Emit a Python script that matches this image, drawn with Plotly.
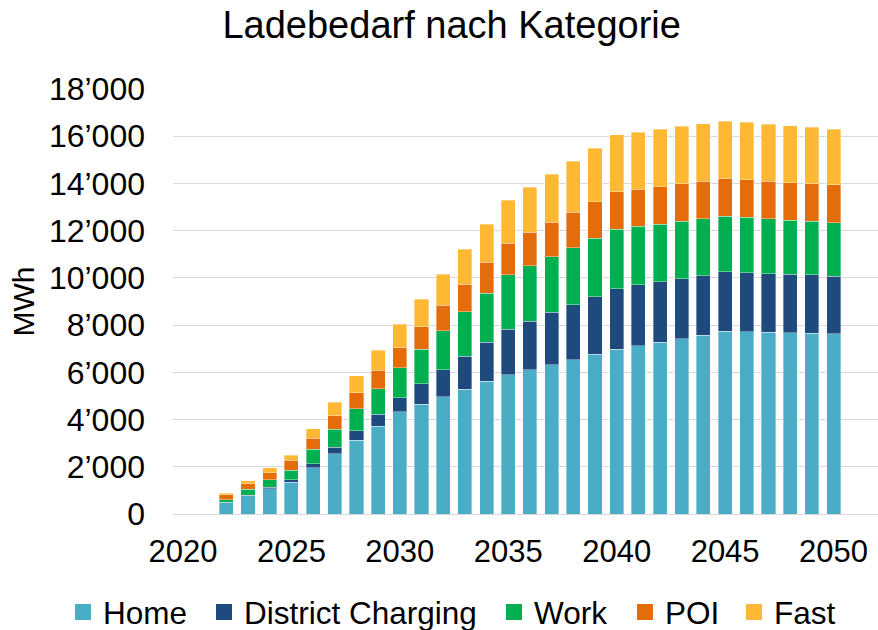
import plotly.graph_objects as go

years = list(range(2022, 2051))

home = [480, 780, 1073, 1355, 1962, 2555, 3133, 3726, 4331, 4644, 4966, 5292, 5618, 5907,
        6118, 6329, 6540, 6764, 6975, 7131, 7270, 7426, 7565, 7734, 7722, 7692, 7679, 7650, 7624]
district = [15, 20, 56, 98, 169, 282, 395, 508, 593, 873, 1143, 1397, 1651, 1912,
            2038, 2207, 2333, 2447, 2574, 2574, 2574, 2544, 2532, 2519, 2489, 2489, 2477, 2477, 2448]
work = [112, 245, 324, 410, 607, 762, 931, 1071, 1270, 1456, 1651, 1876, 2087, 2308,
        2363, 2363, 2405, 2464, 2506, 2476, 2434, 2422, 2405, 2350, 2350, 2321, 2291, 2265, 2261]
poi = [198, 238, 297, 409, 466, 564, 678, 778, 847, 957, 1075, 1172, 1300, 1350,
       1409, 1464, 1494, 1544, 1586, 1574, 1574, 1587, 1591, 1587, 1587, 1591, 1591, 1587, 1604]
fast = [84, 127, 212, 226, 409, 564, 719, 860, 1003, 1172, 1326, 1482, 1622, 1801,
        1912, 2025, 2165, 2266, 2422, 2418, 2435, 2434, 2434, 2447, 2434, 2418, 2405, 2392, 2363]

series_names = ["Home", "District Charging", "Work", "POI", "Fast"]
series_values = [home, district, work, poi, fast]
colors = ["#4BACC6", "#1F4A7D", "#00B050", "#E46C0A", "#FFB833"]
xtick_vals = [2020, 2025, 2030, 2035, 2040, 2045, 2050]

FONT = "Liberation Sans, Arial, sans-serif"
W, H = 878, 630
L, R, T, B = 173, 0, 89, 116
PW, PH = W - L - R, H - T - B

# legend item left edges (pixels) for each entry
legend_left_px = [63, 204, 494, 625, 734]
legend_names = ["legend", "legend2", "legend3", "legend4", "legend5"]

fig = go.Figure()
for name, vals, col, lg in zip(series_names, series_values, colors, legend_names):
    fig.add_trace(go.Bar(
        x=years, y=vals, name=name, legendgroup=name, showlegend=False,
        marker=dict(color=col, line=dict(color="rgba(255,255,255,0.45)", width=0.8)),
        width=0.65,
    ))
for name, col, lg in zip(series_names, colors, legend_names):
    fig.add_trace(go.Scatter(
        x=[None], y=[None], mode="markers", name=name, legendgroup=name, legend=lg,
        marker=dict(symbol="square", size=17, color=col), hoverinfo="skip",
    ))

legend_common = dict(orientation="h", xanchor="left", yanchor="middle",
                     y=(PH - (612 - T)) / PH,
                     font=dict(size=31.5, family=FONT, color="black"),
                     itemwidth=30, bgcolor="rgba(0,0,0,0)", borderwidth=0)
legends = {}
for lg, px in zip(legend_names, legend_left_px):
    legends[lg] = dict(legend_common, x=(px - L) / PW)

fig.update_layout(
    barmode="stack",
    width=W, height=H,
    paper_bgcolor="white", plot_bgcolor="white",
    margin=dict(l=L, r=R, t=T, b=B, autoexpand=False),
    separators=".’",
    font=dict(family=FONT, color="black"),
    title=dict(text="Ladebedarf nach Kategorie", x=451.7 / W, xanchor="center",
               y=1 - 25 / H, yanchor="middle",
               font=dict(size=38, family=FONT, color="black")),
    xaxis=dict(type="linear", range=[2019.54, 2052.05], tickmode="array", tickvals=xtick_vals,
               showgrid=False, zeroline=False, showline=False, ticks="",
               tickfont=dict(size=31, family=FONT, color="black"), ticklabelstandoff=16),
    yaxis=dict(range=[0, 18000], dtick=2000, tickformat=",d",
               showgrid=True, gridcolor="#D9D9D9", gridwidth=1.3,
               zeroline=True, zerolinecolor="#D9D9D9", zerolinewidth=1.3,
               showline=False, ticks="",
               tickfont=dict(size=32, family=FONT, color="black"), ticklabelstandoff=27,
               title=dict(text="MWh", font=dict(size=30, family=FONT, color="black"), standoff=5)),
    bargap=0.35,
    **legends,
)

fig.write_html("out.html", config={"displayModeBar": False},
               post_script="document.body.style.margin='0';document.body.style.padding='0';")
